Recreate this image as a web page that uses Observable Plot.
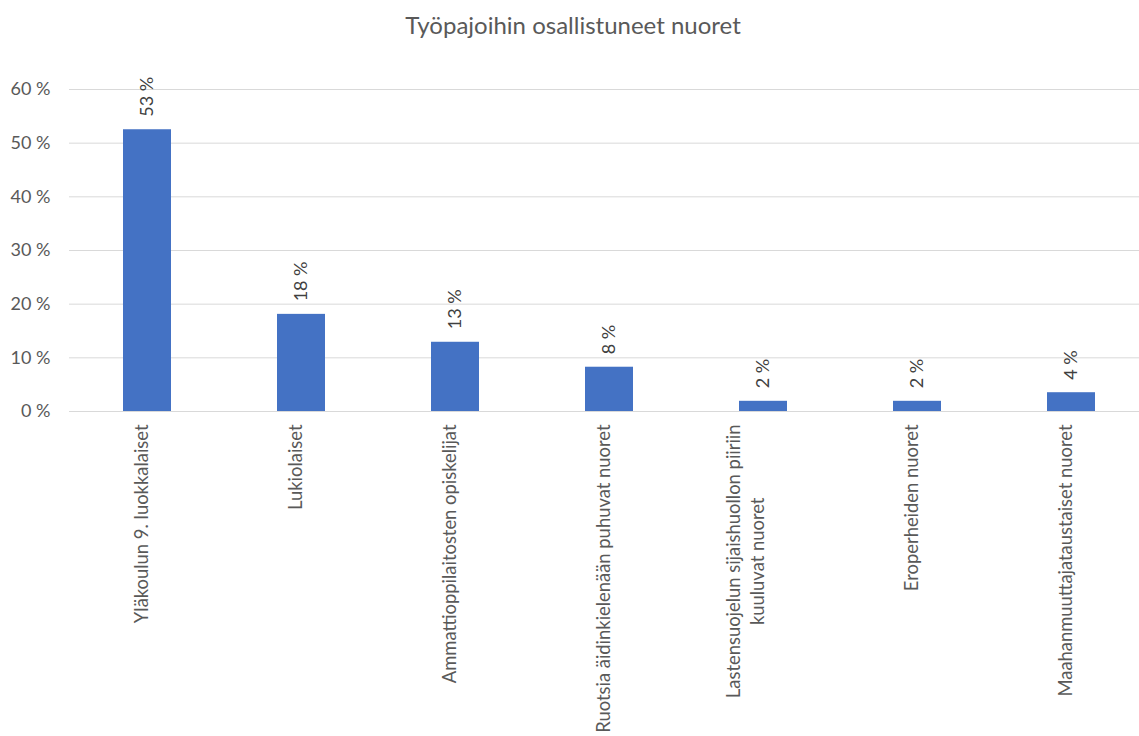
<!DOCTYPE html>
<html>
<head>
<meta charset="utf-8">
<script src="https://cdn.jsdelivr.net/npm/d3@7"></script>
<script src="https://cdn.jsdelivr.net/npm/@observablehq/plot@0.6"></script>
<style>
  html, body { margin: 0; padding: 0; background: #fff; }
  #title {
    width: 1139px; height: 60px; box-sizing: border-box;
    padding-top: 11px; padding-left: 7px;
    font-family: Lato, sans-serif; font-size: 24px; line-height: 28px;
    color: #595959; text-align: center;
  }
</style>
</head>
<body>
<div id="title">Työpajoihin osallistuneet nuoret</div>
<div id="chart"></div>
<script>
const categories = [
  "Yläkoulun 9. luokkalaiset",
  "Lukiolaiset",
  "Ammattioppilaitosten opiskelijat",
  "Ruotsia äidinkielenään puhuvat nuoret",
  "Lastensuojelun sijaishuollon piiriin kuuluvat nuoret",
  "Eroperheiden nuoret",
  "Maahanmuuttajataustaiset nuoret"
];
const values = [52.5, 18.1, 12.9, 8.25, 1.9, 1.9, 3.5];
const valueLabels = ["53 %", "18 %", "13 %", "8 %", "2 %", "2 %", "4 %"];
const yTicks = [0, 10, 20, 30, 40, 50, 60];
// category label line breaks (as in the original chart)
const categoryLines = [
  ["Yläkoulun 9. luokkalaiset"],
  ["Lukiolaiset"],
  ["Ammattioppilaitosten opiskelijat"],
  ["Ruotsia äidinkielenään puhuvat nuoret"],
  ["Lastensuojelun sijaishuollon piiriin", "kuuluvat nuoret"],
  ["Eroperheiden nuoret"],
  ["Maahanmuuttajataustaiset nuoret"]
];

const data = categories.map((c, i) => ({cat: c, value: values[i], label: valueLabels[i], lines: categoryLines[i]}));
const single = data.filter(d => d.lines.length === 1);
const multi = data.filter(d => d.lines.length > 1);

const FONT = "Lato, sans-serif";
const catSize = 18.4;
const canvas = document.createElement("canvas");
const ctx = canvas.getContext("2d");
ctx.font = `${catSize}px Lato`;

const marks = [
  Plot.ruleY(yTicks, {stroke: "#d9d9d9", strokeWidth: 1}),
  Plot.axisY(yTicks, {tickSize: 0, tickPadding: 19, fontSize: 18, fill: "#595959",
    tickFormat: d => d + " %", fontFamily: FONT, label: null}),
  Plot.barY(data, {x: "cat", y: "value", fill: "#4472c4"}),
  Plot.text(data, {x: "cat", y: "value", text: "label", rotate: -90, textAnchor: "start",
    dy: -13, fontSize: 18, fill: "#404040", fontFamily: FONT}),
  Plot.text(single, {x: "cat", text: d => d.lines[0], frameAnchor: "bottom", rotate: -90,
    textAnchor: "end", dy: 13, fontSize: catSize, fill: "#595959", fontFamily: FONT})
];
for (const d of multi) {
  const w = Math.max(...d.lines.map(l => ctx.measureText(l).width));
  marks.push(Plot.text([d], {x: "cat", text: e => e.lines.join("\n"), frameAnchor: "bottom",
    rotate: -90, textAnchor: "middle", lineHeight: 1.3, dy: 13 + w / 2,
    fontSize: catSize, fill: "#595959", fontFamily: FONT}));
}

const chart = Plot.plot({
  width: 1139,
  height: 676,
  marginLeft: 69,
  marginRight: 0,
  marginTop: 29,
  marginBottom: 325,
  style: {background: "#fff", fontFamily: FONT},
  x: {type: "band", domain: categories, range: [69, 1149], paddingInner: 0.69, paddingOuter: 0.345, axis: null},
  y: {domain: [0, 60], axis: null},
  marks
});
document.getElementById("chart").appendChild(chart);
</script>
</body>
</html>
